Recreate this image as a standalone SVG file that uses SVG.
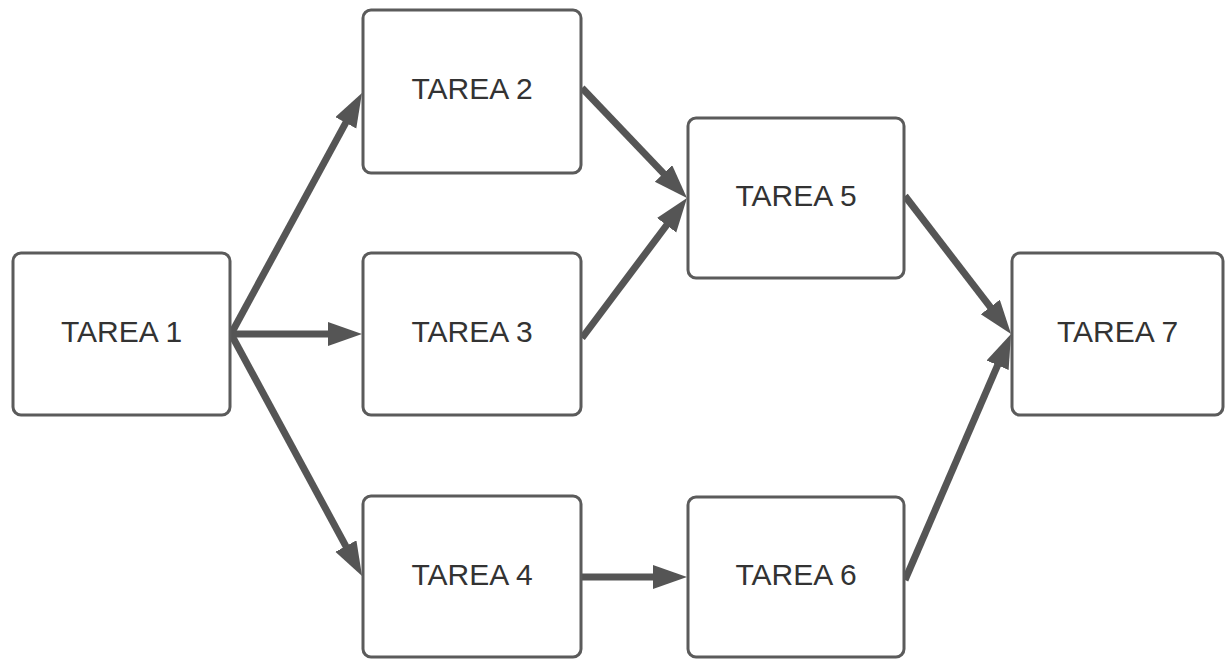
<svg xmlns="http://www.w3.org/2000/svg" width="1225" height="659" viewBox="0 0 1225 659">
<style>
.box{fill:#ffffff;stroke:#5b5b5b;stroke-width:3}
.lbl{font-family:"Liberation Sans",Arial,sans-serif;font-size:30px;fill:#333333;text-anchor:middle}
.edge{stroke:#555555;stroke-width:7;fill:none}
</style>
<defs>
<marker id="arr" markerUnits="userSpaceOnUse" markerWidth="36" markerHeight="26" refX="19" refY="12" orient="auto" viewBox="0 0 36 26">
<path d="M0,0 L34,12 L0,24 Z" fill="#555555"/>
</marker>
</defs>
<rect width="1225" height="659" fill="#ffffff"/>
<g id="connectors">
<line class="edge" x1="231" y1="334" x2="354.8" y2="106.2" marker-end="url(#arr)"/>
<line class="edge" x1="231" y1="334" x2="347" y2="334" marker-end="url(#arr)"/>
<line class="edge" x1="231" y1="334" x2="354.9" y2="562.8" marker-end="url(#arr)"/>
<line class="edge" x1="582" y1="88" x2="676.6" y2="187.2" marker-end="url(#arr)"/>
<line class="edge" x1="582" y1="338" x2="678" y2="210" marker-end="url(#arr)"/>
<line class="edge" x1="582" y1="577" x2="672" y2="577" marker-end="url(#arr)"/>
<line class="edge" x1="905" y1="196" x2="1001.9" y2="322.1" marker-end="url(#arr)"/>
<line class="edge" x1="905" y1="580" x2="1005.1" y2="347.8" marker-end="url(#arr)"/>
</g>
<g id="tarea1"><rect class="box" x="13" y="253" width="217" height="162" rx="8"/><text class="lbl" x="121.5" y="342">TAREA 1</text></g>
<g id="tarea2"><rect class="box" x="363" y="10" width="218" height="163" rx="8"/><text class="lbl" x="472" y="99">TAREA 2</text></g>
<g id="tarea3"><rect class="box" x="363" y="253" width="218" height="162" rx="8"/><text class="lbl" x="472" y="342">TAREA 3</text></g>
<g id="tarea4"><rect class="box" x="363" y="496" width="218" height="161" rx="8"/><text class="lbl" x="472" y="585">TAREA 4</text></g>
<g id="tarea5"><rect class="box" x="688" y="118" width="216" height="160" rx="8"/><text class="lbl" x="796" y="206">TAREA 5</text></g>
<g id="tarea6"><rect class="box" x="688" y="497" width="216" height="160" rx="8"/><text class="lbl" x="796" y="585">TAREA 6</text></g>
<g id="tarea7"><rect class="box" x="1012" y="253" width="211" height="162" rx="8"/><text class="lbl" x="1117.5" y="342">TAREA 7</text></g>
</svg>
